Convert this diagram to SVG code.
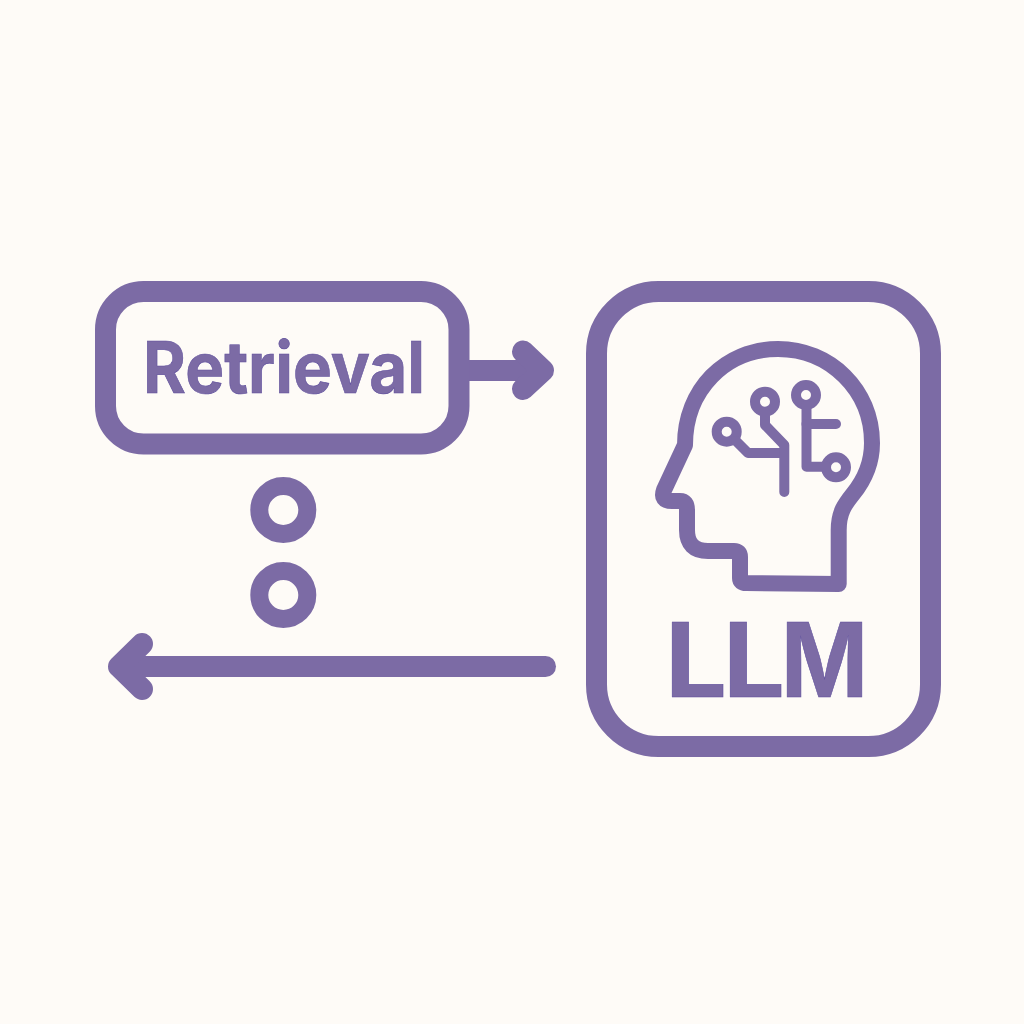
<svg xmlns="http://www.w3.org/2000/svg" width="1024" height="1024" viewBox="0 0 1024 1024">
<style>
.l{fill:none;stroke:#7c6ba5;stroke-linecap:round;stroke-linejoin:round}
.t{fill:#7c6ba5;stroke:#5f4f9c;stroke-width:.6;font-family:Inter,"Liberation Sans",sans-serif;font-weight:700}
</style>
<rect width="1024" height="1024" fill="#fefbf7"/>
<g id="connectors">
<path class="l" stroke-width="21" d="M469 370.500H540"/>
<path class="l" fill="#7c6ba5" stroke-width="22" d="M523 351.500L543 370.500L523 389"/>
<path class="l" stroke-width="21" d="M545.500 666.500H122"/>
<path class="l" stroke-width="22" d="M142 644L119 666.500L142 689"/>
</g>
<g id="retrieval">
<rect class="l" x="105.500" y="291.500" width="353.500" height="152.500" rx="38" stroke-width="21"/>
<text class="t" x="143" y="392.500" font-size="71" textLength="282" lengthAdjust="spacingAndGlyphs">Retrieval</text>
</g>
<g id="dot1"><circle class="l" cx="283.300" cy="510" r="24" stroke-width="18"/></g>
<g id="dot2"><circle class="l" cx="283.300" cy="595" r="24" stroke-width="18"/></g>
<g id="llm">
<rect class="l" x="596.500" y="291.500" width="334" height="455" rx="62" stroke-width="21"/>
<path class="l" stroke-width="16" d="M838.700 584V530C838.700 512 845 504 853 494C866 478 872 462 872 443C872 390 830 349 778 349C725 349 685 390 685 445L664 490Q660 501 672 501L680 501Q687 501 687 510V530Q687 551 708 551H734Q740 551 740 557V578Q740 583 746 583L838.700 584Z"/>
<g class="l" stroke-width="10">
<circle cx="726.700" cy="431.700" r="10"/>
<circle cx="765" cy="401.700" r="10"/>
<circle cx="806" cy="395" r="10"/>
<circle cx="836" cy="467.300" r="10"/>
<path d="M736 441L748 453H784"/>
<path d="M765 412V425L784.300 445V492"/>
<path d="M806.500 405V466.700H826"/>
<path d="M806.500 424H836"/>
</g>
<text class="t" y="697" font-size="103"><tspan x="665" textLength="62" lengthAdjust="spacingAndGlyphs">L</tspan><tspan x="723" textLength="62" lengthAdjust="spacingAndGlyphs">L</tspan><tspan x="781" textLength="87" lengthAdjust="spacingAndGlyphs">M</tspan></text>
</g>
</svg>
